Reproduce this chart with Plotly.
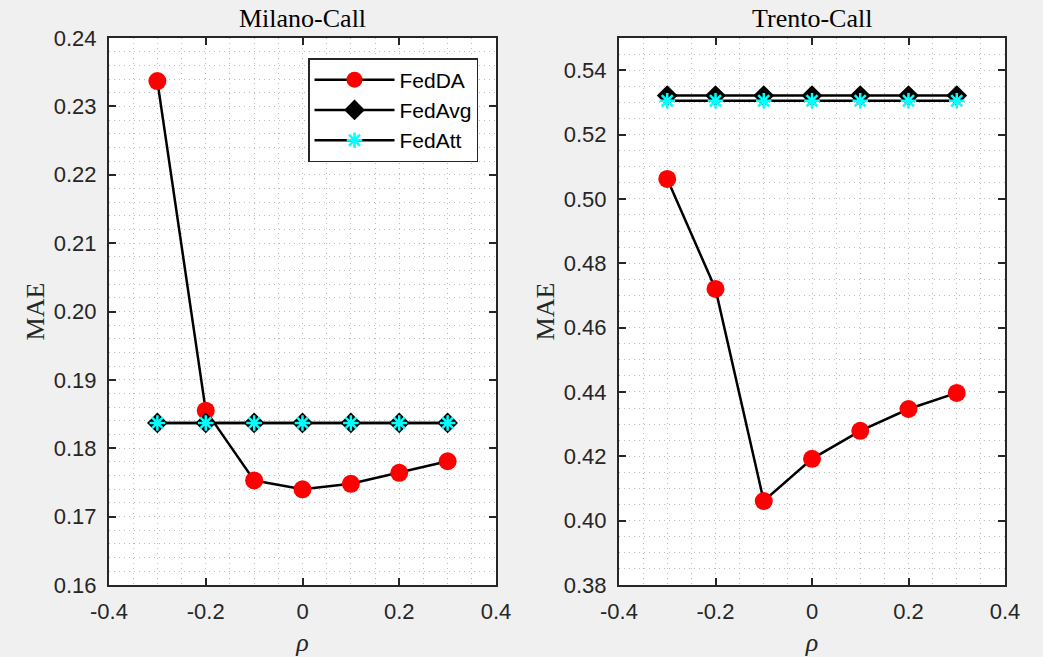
import plotly.graph_objects as go

rho = [-0.3, -0.2, -0.1, 0.0, 0.1, 0.2, 0.3]

milano_fedda = [0.2337, 0.1855, 0.1753, 0.1740, 0.1748, 0.1764, 0.1781]
milano_fedavg = [0.1837, 0.1837, 0.1837, 0.1837, 0.1837, 0.1837, 0.1837]
milano_fedatt = [0.1837, 0.1837, 0.1837, 0.1837, 0.1837, 0.1837, 0.1837]

trento_fedda = [0.5062, 0.4720, 0.4061, 0.4192, 0.4279, 0.4347, 0.4397]
trento_fedavg = [0.5321, 0.5321, 0.5321, 0.5321, 0.5321, 0.5321, 0.5321]
trento_fedatt = [0.5305, 0.5305, 0.5305, 0.5305, 0.5305, 0.5305, 0.5305]

titles = ["Milano-Call", "Trento-Call"]
x_ticks = [-0.4, -0.2, 0, 0.2, 0.4]
x_ticklabels = ["-0.4", "-0.2", "0", "0.2", "0.4"]

W, H = 1043, 657
fig = go.Figure()

def add_series(xa, ya, da, avg, att, show):
    fig.add_trace(go.Scatter(x=rho, y=da, name="FedDA", mode="lines+markers",
                             line=dict(color="black", width=2.5),
                             marker=dict(symbol="circle", size=18, color="#ff0000",
                                         line=dict(width=0)),
                             xaxis=xa, yaxis=ya, showlegend=show))
    fig.add_trace(go.Scatter(x=rho, y=avg, name="FedAvg", mode="lines+markers",
                             line=dict(color="black", width=2.5),
                             marker=dict(symbol="diamond", size=16, color="black",
                                         line=dict(width=0)),
                             xaxis=xa, yaxis=ya, showlegend=show))
    fig.add_trace(go.Scatter(x=rho, y=att, name="FedAtt", mode="lines+markers",
                             line=dict(color="black", width=2.5),
                             marker=dict(symbol="asterisk-open", size=13, color="#00ffff",
                                         line=dict(width=2.5, color="#00ffff")),
                             xaxis=xa, yaxis=ya, showlegend=show))

add_series("x", "y", milano_fedda, milano_fedavg, milano_fedatt, True)
add_series("x2", "y2", trento_fedda, trento_fedavg, trento_fedatt, False)

grid_col = "#bcbcbc"
grid_dash = "1px,4px"
tick_font = dict(family="Liberation Sans, Arial", size=22, color="#262626")
title_font = dict(family="Liberation Serif, Times New Roman", size=26, color="#262626")

def xaxis(domain):
    return dict(domain=domain, range=[-0.4, 0.4], tickvals=x_ticks, ticktext=x_ticklabels,
                ticks="inside", ticklen=7, tickwidth=1.5, tickcolor="#262626",
                showline=True, linecolor="#262626", linewidth=2, mirror="ticks",
                showgrid=True, gridcolor=grid_col, griddash=grid_dash, gridwidth=1,
                minor=dict(dtick=0.05, showgrid=True, gridcolor=grid_col, griddash=grid_dash,
                           gridwidth=1, ticks=""),
                zeroline=False, tickfont=tick_font, ticklabelstandoff=6,
                automargin=False,
                title=dict(text="<i>ρ</i>", font=title_font, standoff=12))

def yaxis(domain, rng, minor, anchor, tv):
    return dict(domain=domain, range=rng, tickvals=tv, tickformat=".2f",
                ticks="inside", ticklen=7, tickwidth=1.5, tickcolor="#262626",
                showline=True, linecolor="#262626", linewidth=2, mirror="ticks",
                showgrid=True, gridcolor=grid_col, griddash=grid_dash, gridwidth=1,
                minor=dict(dtick=minor, showgrid=True, gridcolor=grid_col, griddash=grid_dash,
                           gridwidth=1, ticks=""),
                zeroline=False, tickfont=tick_font, ticklabelstandoff=6,
                anchor=anchor, automargin=False,
                title=dict(text="MAE", font=title_font, standoff=2))

ydom = [1 - 585 / H, 1 - 38 / H]
left_tv = [0.16, 0.17, 0.18, 0.19, 0.20, 0.21, 0.22, 0.23, 0.24]
right_tv = [0.38, 0.40, 0.42, 0.44, 0.46, 0.48, 0.50, 0.52, 0.54]

fig.update_layout(
    width=W, height=H,
    paper_bgcolor="#f0f0f0", plot_bgcolor="white",
    margin=dict(l=0, r=0, t=0, b=0, autoexpand=False),
    xaxis=xaxis([109 / W, 496 / W]) | dict(anchor="y"),
    xaxis2=xaxis([619 / W, 1005 / W]) | dict(anchor="y2"),
    yaxis=yaxis(ydom, [0.16, 0.24], 0.002, "x", left_tv),
    yaxis2=yaxis(ydom, [0.38, 0.55], 0.005, "x2", right_tv),
    legend=dict(x=478 / W, y=1 - 58 / H, xanchor="right", yanchor="top",
                bgcolor="white", bordercolor="#262626", borderwidth=1.5,
                font=dict(family="Liberation Sans, Arial", size=21, color="black"),
                itemwidth=80, tracegroupgap=0),
    showlegend=True,
    annotations=[
        dict(text=titles[0], x=302.5 / W, y=1 - 18 / H, xref="paper", yref="paper",
             xanchor="center", yanchor="middle", showarrow=False,
             font=dict(family="Liberation Serif, Times New Roman", size=26, color="black")),
        dict(text=titles[1], x=812 / W, y=1 - 18 / H, xref="paper", yref="paper",
             xanchor="center", yanchor="middle", showarrow=False,
             font=dict(family="Liberation Serif, Times New Roman", size=26, color="black")),
    ],
)

fig.write_html("out.html", config={"displayModeBar": False},
               post_script="document.body.style.margin='0';document.body.style.padding='0';")
